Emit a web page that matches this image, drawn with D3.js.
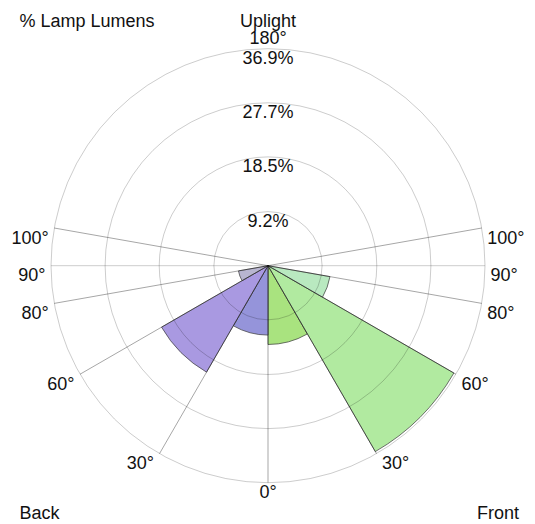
<!DOCTYPE html>
<html>
<head>
<meta charset="utf-8">
<script src="https://cdn.jsdelivr.net/npm/d3@7"></script>
<style>
  body { margin: 0; background: #fff; }
  text { font-family: "Liberation Sans", Arial, sans-serif; font-size: 18px; fill: #111; }
</style>
</head>
<body>
<svg id="chart"></svg>
<script>
// zone edges (degrees from nadir) and lumen share per zone
var frontZones = [[0, 30], [30, 60], [60, 80], [80, 90]]
var frontValues = [13.4, 36.5, 10.7, 0]
var frontColors = ["#a9e37f", "#b1eaa0", "#b9e9c0", "#c8ecd0"]

var backZones = [[0, 30], [30, 60], [60, 80], [80, 90]]
var backValues = [11.8, 20.9, 5.1, 0]
var backColors = ["#9594da", "#a999e1", "#b8b5d0", "#c4c0d8"]

var upZones = [[90, 100], [100, 180]]
var upValues = [0, 0]

var ringTicks = [9.2, 18.5, 27.7, 36.9]
var spokeAngles = [30, 60, 80, 90, 100]
var angleLabels = [0, 30, 60, 80, 90, 100]

var width = 535, height = 524
var cx = 268, cy = 265.7, R = 217

var svg = d3.select("#chart")
    .attr("width", width)
    .attr("height", height)

var g = svg.append("g")
    .attr("transform", "translate(" + cx + "," + cy + ")")

var r = d3.scaleLinear()
    .domain([0, d3.max(ringTicks)])
    .range([0, R])

var rad = d => d * Math.PI / 180

// point on the chart for angle from nadir; side = 1 front (right), -1 back (left)
function pt(deg, radius, side) {
    return [side * radius * Math.sin(rad(deg)), radius * Math.cos(rad(deg))]
}

var arc = d3.arc().innerRadius(0)

var wedges = []
frontZones.forEach((z, i) => wedges.push({
    start: Math.PI - rad(z[1]), end: Math.PI - rad(z[0]), v: frontValues[i], c: frontColors[i]}))
backZones.forEach((z, i) => wedges.push({
    start: Math.PI + rad(z[0]), end: Math.PI + rad(z[1]), v: backValues[i], c: backColors[i]}))
upZones.forEach((z, i) => {
    wedges.push({start: Math.PI - rad(z[1]), end: Math.PI - rad(z[0]), v: upValues[i], c: "#f0d080"})
    wedges.push({start: Math.PI + rad(z[0]), end: Math.PI + rad(z[1]), v: upValues[i], c: "#f0d080"})
})

g.append("g")
    .selectAll("path")
    .data(wedges.filter(d => d.v > 0))
    .enter()
    .append("path")
    .attr("d", d => arc.outerRadius(r(d.v)).startAngle(d.start).endAngle(d.end)())
    .attr("fill", d => d.c)
    .attr("stroke", "#444")
    .attr("stroke-opacity", 0.75)
    .attr("stroke-width", 1)

// grid rings
g.append("g")
    .selectAll("circle")
    .data(ringTicks)
    .enter()
    .append("circle")
    .attr("r", d => r(d))
    .attr("fill", "none")
    .attr("stroke", "#000")
    .attr("stroke-opacity", 0.2)

// spokes
var spokes = [[0, 1]]
spokeAngles.forEach(a => { spokes.push([a, 1]); spokes.push([a, -1]) })

g.append("g")
    .selectAll("line")
    .data(spokes)
    .enter()
    .append("line")
    .attr("x1", 0).attr("y1", 0)
    .attr("x2", d => pt(d[0], R, d[1])[0])
    .attr("y2", d => pt(d[0], R, d[1])[1])
    .attr("stroke", "#000")
    .attr("stroke-opacity", d => d[0] == 90 ? 0.2 : 0.35)

// ring value labels
g.append("g")
    .selectAll("text")
    .data(ringTicks)
    .enter()
    .append("text")
    .attr("x", 0)
    .attr("y", d => -r(d) + 15.5)
    .attr("text-anchor", "middle")
    .text(d => d.toFixed(1) + "%")

// angle labels
var labs = []
angleLabels.forEach(a => {
    if (a == 0) labs.push([a, 0])
    else { labs.push([a, 1]); labs.push([a, -1]) }
})

g.append("g")
    .selectAll("text")
    .data(labs)
    .enter()
    .append("text")
    .attr("x", d => pt(d[0], R, d[1] || 1)[0] + d[1] * 5.5)
    .attr("y", d => pt(d[0], R, d[1] || 1)[1] + 15.5)
    .attr("text-anchor", d => d[1] == 0 ? "middle" : (d[1] > 0 ? "start" : "end"))
    .text(d => d[0] + "°")

g.append("text")
    .attr("x", 0)
    .attr("y", -R - 4.5)
    .attr("text-anchor", "middle")
    .text("180°")

svg.append("text").attr("x", cx).attr("y", 26.5).attr("text-anchor", "middle").text("Uplight")
svg.append("text").attr("x", 19.5).attr("y", 26.5).text("% Lamp Lumens")
svg.append("text").attr("x", 19.5).attr("y", 518.5).text("Back")
svg.append("text").attr("x", 519).attr("y", 518.5).attr("text-anchor", "end").text("Front")
</script>
</body>
</html>
